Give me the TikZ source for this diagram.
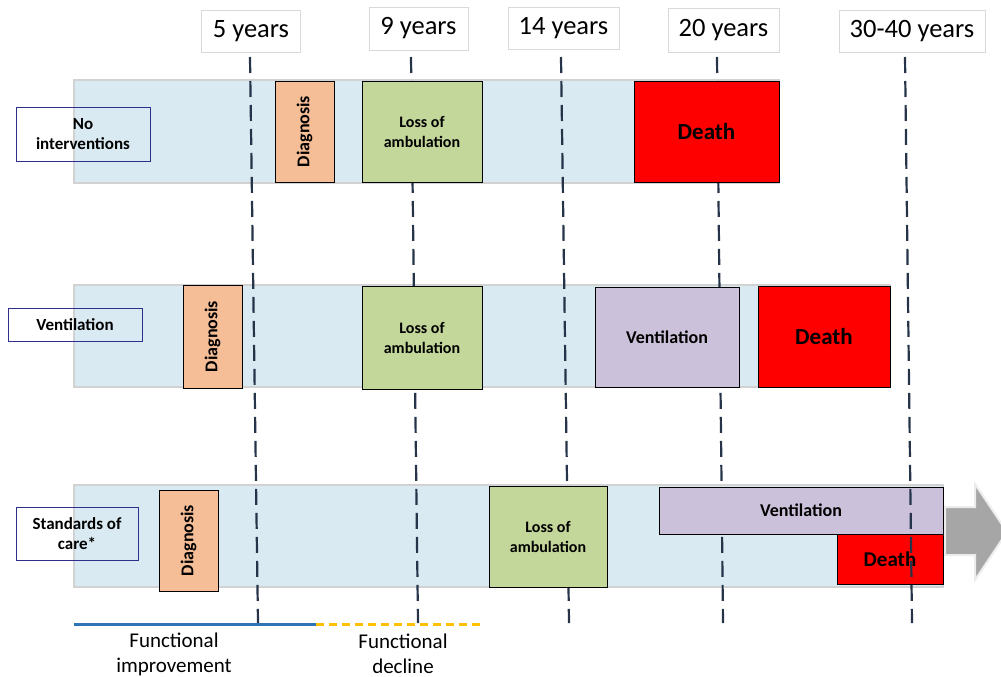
\documentclass[tikz,border=0pt]{standalone}
\usepackage{fontspec}
\setmainfont{Carlito}

\definecolor{barblue}{HTML}{DAEAF2}
\definecolor{bargray}{HTML}{D2D2D2}
\definecolor{diagorange}{HTML}{F6BE96}
\definecolor{lossgreen}{HTML}{C4D79B}
\definecolor{ventlilac}{HTML}{CCC1DA}
\definecolor{deathred}{HTML}{FF0000}
\definecolor{linenavy}{HTML}{26344A}
\definecolor{labnavy}{HTML}{2E2E8C}
\definecolor{improveblue}{HTML}{2E75B6}
\definecolor{declineyellow}{HTML}{FFC000}
\definecolor{arrowgray}{HTML}{A6A6A6}

\tikzset{
	blok/.style={draw=black, line width=0.8pt, inner sep=0pt, align=center,
		font=\bfseries\fontsize{16}{20}\selectfont},
	diagblok/.style={blok, fill=diagorange, rotate=90, font=\bfseries\fontsize{18}{20}\selectfont},
	ventblok/.style={blok, fill=ventlilac, font=\bfseries\fontsize{18}{20}\selectfont},
	deathblok/.style={blok, fill=deathred, font=\bfseries\fontsize{23}{26}\selectfont},
	yearbox/.style={draw=gray!30, fill=white, line width=0.8pt, inner sep=0pt,
		font=\fontsize{26.5}{30}\selectfont},
	rowlabel/.style={draw=labnavy, line width=0.9pt, inner sep=0pt, align=center,
		font=\bfseries\fontsize{17}{20}\selectfont},
	yearline/.style={draw=linenavy, line width=2.2pt, dash pattern=on 16pt off 8pt},
	bar/.style={fill=barblue, draw=bargray, line width=2.5pt}
}

\begin{document}
\begin{tikzpicture}[x=1pt, y=-1pt]
	\useasboundingbox (0,0) rectangle (1001,677);
	\clip (0,0) rectangle (1001,677);

	% Bars
	\filldraw[bar] (74,80) rectangle (779,183);
	\filldraw[bar] (74,285) rectangle (890,387);
	\filldraw[bar] (74,485) rectangle (943,587);

	% Arrow
	\filldraw[fill=arrowgray, draw=gray!15, line width=2pt]
	(945,507) -- (975,507) -- (975,484) -- (1007,532) -- (975,580) -- (975,555) -- (945,555) -- cycle;

	% Years
	\node[yearbox, minimum width=99, minimum height=42] (y5) at (251,31) {5 years};
	\node[yearbox, minimum width=99, minimum height=43] (y9) at (418.5,28.5) {9 years};
	\node[yearbox, minimum width=111, minimum height=42] (y14) at (563.5,28) {14 years};
	\node[yearbox, minimum width=111, minimum height=44] (y20) at (723.5,30) {20 years};
	\node[yearbox, minimum width=146, minimum height=42] (y30) at (912,31) {30-40 years};

	\coordinate[](t5) at (250,57);   \coordinate[](b5) at (258,623);
	\coordinate[](t9) at (411,57);   \coordinate[](b9) at (418,623);
	\coordinate[](t14) at (561,57);  \coordinate[](b14) at (569,623);
	\coordinate[](t20) at (717,57);  \coordinate[](b20) at (723,623);
	\coordinate[](t30) at (905,57);  \coordinate[](b30) at (912,623);

	\foreach \yr in {5,9,14,20}
	{
	\draw[yearline] (t\yr) -- (b\yr);
	}

	% No interventions
	\node[diagblok, minimum width=101, minimum height=59] (diag1) at (304.5,131.5) {Diagnosis};
	\node[blok, fill=lossgreen, minimum width=120, minimum height=101] (loss1) at (422,131.5) {Loss of\\ambulation};
	\node[deathblok, minimum width=145, minimum height=101] (death1) at (706.5,131.5) {Death};

	% Ventilation
	\node[diagblok, minimum width=103, minimum height=59] (diag2) at (212.5,336.5) {Diagnosis};
	\node[blok, fill=lossgreen, minimum width=120, minimum height=103] (loss2) at (422,337.5) {Loss of\\ambulation};
	\node[ventblok, minimum width=144, minimum height=100] (vent2) at (667,337) {Ventilation};
	\node[deathblok, minimum width=132, minimum height=101] (death2) at (824,336.5) {Death};

	% Standards of care
	\node[diagblok, minimum width=101, minimum height=59] (diag3) at (188.5,540.5) {Diagnosis};
	\node[blok, fill=lossgreen, minimum width=118, minimum height=101] (loss3) at (548,536.5) {Loss of\\ambulation};
	\node[ventblok, minimum width=284, minimum height=47] (vent3) at (801,510.5) {Ventilation};
	\node[deathblok, font=\bfseries\fontsize{21}{24}\selectfont, minimum width=106, minimum height=50] (death3) at (890,559) {Death};

	\draw[yearline] (t30) -- (b30);

	% Row labels
	\node[rowlabel, minimum width=134, minimum height=54] (lab1) at (83,134) {No\\interventions};
	\node[rowlabel, minimum width=134, minimum height=33] (lab2) at (75,324.5) {Ventilation};
	\node[rowlabel, minimum width=122, minimum height=53] (lab3) at (77,533.5) {Standards of\\care*};

	% Legend
	\coordinate[](l0) at (74,624);
	\coordinate[](l1) at (316,624);
	\coordinate[](l2) at (482,624);
	\draw[line width=3pt, draw=improveblue] (l0) -- (l1);
	\draw[line width=3pt, draw=declineyellow, dash pattern=on 8pt off 5pt] (l1) -- (l2);

	\node[align=center, font=\fontsize{21}{25}\selectfont] (improve) at (174,654) {Functional\\improvement};
	\node[align=center, font=\fontsize{21}{25}\selectfont] (decline) at (403,654) {Functional\\decline};

\end{tikzpicture}
\end{document}
